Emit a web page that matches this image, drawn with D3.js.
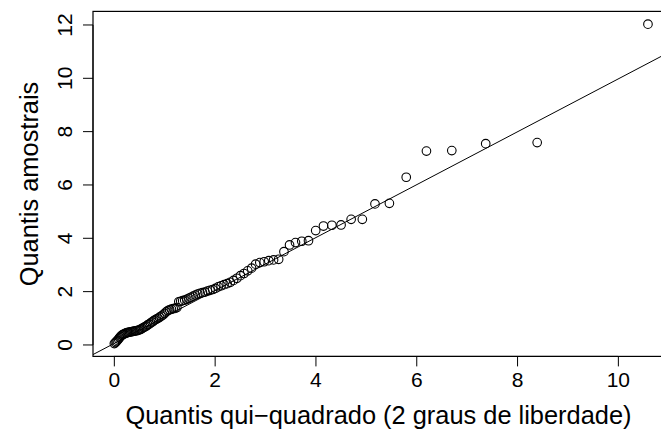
<!DOCTYPE html>
<html><head><meta charset="utf-8">
<script src="https://cdn.jsdelivr.net/npm/d3@7"></script>
<style>body{margin:0;background:#fff}svg{display:block}</style></head>
<body><svg id="c" width="661" height="436"></svg>
<script>
// Theoretical chi-square (2 df) quantiles, n = 100
const theoretical = [
0.010,0.030,0.051,0.071,0.092,0.113,0.134,0.156,0.178,0.200,
0.222,0.244,0.267,0.290,0.313,0.337,0.361,0.385,0.409,0.434,
0.459,0.484,0.510,0.536,0.562,0.589,0.616,0.643,0.671,0.699,
0.728,0.757,0.786,0.816,0.846,0.877,0.908,0.940,0.972,1.005,
1.038,1.072,1.107,1.142,1.178,1.214,1.251,1.289,1.327,1.366,
1.406,1.447,1.489,1.531,1.575,1.619,1.665,1.711,1.759,1.808,
1.858,1.909,1.962,2.016,2.071,2.128,2.187,2.248,2.310,2.375,
2.442,2.511,2.582,2.656,2.733,2.813,2.896,2.983,3.074,3.169,
3.270,3.375,3.486,3.604,3.729,3.862,4.005,4.159,4.326,4.508,
4.708,4.930,5.181,5.467,5.801,6.202,6.705,7.378,8.399,10.597];
// Sorted sample quantiles
const sample = [
0.05,0.09,0.13,0.17,0.22,0.27,0.32,0.36,0.39,0.41,
0.43,0.45,0.46,0.47,0.48,0.49,0.50,0.51,0.52,0.53,
0.54,0.55,0.57,0.59,0.62,0.65,0.68,0.71,0.75,0.78,
0.82,0.86,0.90,0.94,0.97,1.00,1.04,1.08,1.12,1.18,
1.24,1.29,1.32,1.34,1.36,1.37,1.40,1.62,1.64,1.66,
1.68,1.71,1.75,1.79,1.83,1.87,1.91,1.94,1.96,1.98,
2.02,2.05,2.08,2.12,2.18,2.22,2.26,2.30,2.35,2.42,
2.50,2.60,2.68,2.78,2.88,3.03,3.09,3.12,3.16,3.19,
3.21,3.50,3.75,3.84,3.89,3.91,4.29,4.46,4.49,4.50,
4.71,4.71,5.29,5.31,6.29,7.27,7.29,7.55,7.59,12.03];
const xTicks = [0,2,4,6,8,10];
const yTicks = [0,2,4,6,8,10,12];
const qqIntercept = 0.05, qqSlope = 0.992;
const xLabel = "Quantis qui\u2212quadrado (2 graus de liberdade)";
const yLabel = "Quantis amostrais";

const svg = d3.select("#c");
const font = "'Liberation Sans', Arial, Helvetica, sans-serif";
const L = 93, R = 669.3, T = 11.4, B = 356.4;

function ext(a){const mn=d3.min(a),mx=d3.max(a),d=(mx-mn)*0.04;return [mn-d,mx+d];}
const x = d3.scaleLinear().domain(ext(theoretical)).range([L,R]);
const y = d3.scaleLinear().domain(ext(sample)).range([B,T]);

svg.append("defs").append("clipPath").attr("id","clip")
  .append("rect").attr("x",L).attr("y",T).attr("width",R-L).attr("height",B-T);

// axes
const xAxis = d3.axisBottom(x).tickValues(xTicks).tickSize(10).tickPadding(6).tickFormat(d3.format("d"));
const gx = svg.append("g").attr("transform",`translate(0,${B})`).call(xAxis);
gx.select(".domain").attr("d",`M${x(0)},0H${x(10)}`);
gx.selectAll("text").attr("font-family",font).attr("font-size",21).attr("fill","#000");
gx.selectAll("line").attr("stroke","#000");

const yAxis = d3.axisLeft(y).tickValues(yTicks).tickSize(10).tickFormat(d3.format("d"));
const gy = svg.append("g").attr("transform",`translate(${L},0)`).call(yAxis);
gy.select(".domain").attr("d",`M0,${y(0)}V${y(12)}`);
gy.selectAll("line").attr("stroke","#000");
gy.selectAll("text").attr("font-family",font).attr("font-size",21).attr("fill","#000")
  .attr("x",0).attr("dy",null).attr("text-anchor","middle")
  .attr("transform",d=>`translate(-21,${y(d)}) rotate(-90)`).attr("y",0);
gy.selectAll(".tick").attr("transform",null);
gy.selectAll(".tick line").attr("transform",d=>`translate(0,${y(d)})`);

// box
svg.append("rect").attr("x",L).attr("y",T).attr("width",R-L).attr("height",B-T)
  .attr("fill","none").attr("stroke","#000").attr("stroke-width",1.2);

// qq line
const xd = x.domain();
svg.append("line").attr("clip-path","url(#clip)")
  .attr("x1",x(xd[0])).attr("y1",y(qqIntercept+qqSlope*xd[0]))
  .attr("x2",x(xd[1])).attr("y2",y(qqIntercept+qqSlope*xd[1]))
  .attr("stroke","#000").attr("stroke-width",1);

// points
svg.append("g").selectAll("circle").data(theoretical.map((t,i)=>[t,sample[i]]))
  .join("circle").attr("cx",d=>x(d[0])).attr("cy",d=>y(d[1])).attr("r",4.3)
  .attr("fill","none").attr("stroke","#000").attr("stroke-width",1.1);

// titles
svg.append("text").attr("x",378.5).attr("y",424).attr("text-anchor","middle")
  .attr("font-family",font).attr("font-size",25.4).text(xLabel);
svg.append("text").attr("transform",`translate(38,184) rotate(-90)`)
  .attr("text-anchor","middle").attr("font-family",font).attr("font-size",25.4)
  .text(yLabel);
</script></body></html>
